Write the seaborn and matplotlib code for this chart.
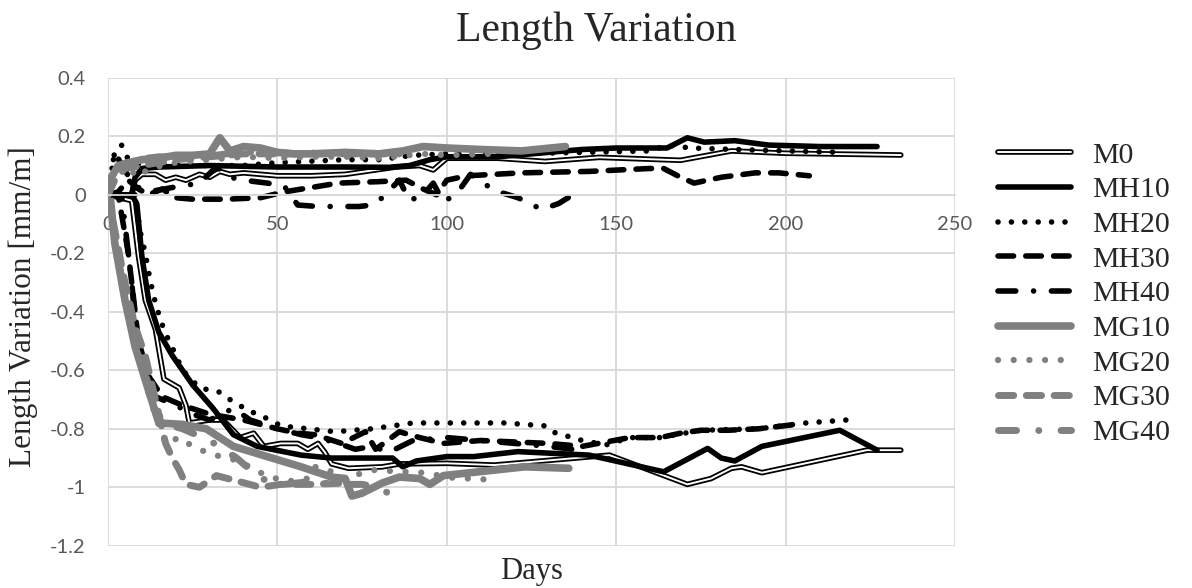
import pandas as pd
import seaborn as sns
import matplotlib.pyplot as plt
import matplotlib.patheffects as pe
from matplotlib.lines import Line2D

# ---- data (days, length variation mm/m) ----
# expansion branch (upper curves)
m0_up_days = [0, 7, 8, 10, 14, 17, 20, 23, 27, 30, 33, 36, 40, 50, 60, 70, 85, 92, 96, 100, 115, 129, 145, 164, 169, 184, 200, 234]
m0_up_vals = [0, 0, 0.05, 0.07, 0.07, 0.05, 0.06, 0.05, 0.07, 0.06, 0.08, 0.07, 0.075, 0.065, 0.065, 0.07, 0.095, 0.1, 0.085, 0.125, 0.125, 0.114, 0.128, 0.12, 0.118, 0.15, 0.142, 0.136]
mh10_up_days = [0, 7, 8, 10, 15, 30, 50, 70, 83, 89, 95, 100, 115, 130, 140, 150, 165, 171, 176, 185, 195, 210, 227]
mh10_up_vals = [0, 0, 0.06, 0.09, 0.095, 0.1, 0.095, 0.095, 0.094, 0.1, 0.12, 0.13, 0.13, 0.145, 0.155, 0.16, 0.16, 0.195, 0.18, 0.185, 0.17, 0.165, 0.165]
mh20_up_days = [0, 2, 4, 6, 10, 20, 30, 40, 50, 60, 70, 80, 90, 100, 120, 140, 160, 165, 172, 185, 200, 217]
mh20_up_vals = [0, 0.15, 0.17, 0.12, 0.1, 0.1, 0.1, 0.1, 0.11, 0.115, 0.12, 0.12, 0.135, 0.14, 0.14, 0.145, 0.15, 0.17, 0.16, 0.155, 0.15, 0.145]
mh30_up_days = [0, 3, 6, 9, 12, 16, 20, 25, 35, 45, 52, 60, 68, 80, 88, 93, 97, 100, 106, 122, 142, 160, 164, 169, 173, 181, 191, 198, 207]
mh30_up_vals = [0, 0.01, 0.05, 0.02, 0, 0.02, -0.01, -0.015, -0.015, -0.01, 0.01, 0.025, 0.04, 0.045, 0.05, 0.02, 0, 0.05, 0.065, 0.075, 0.08, 0.09, 0.09, 0.06, 0.04, 0.06, 0.075, 0.075, 0.065]
mh40_up_days = [0, 2, 4, 8, 12, 19, 27, 32, 36, 40, 47, 52, 56, 62, 67, 74, 78, 80, 86, 89, 93, 96, 99, 103, 107, 114, 121, 128, 133, 140]
mh40_up_vals = [0, 0.15, 0.1, 0.03, 0.01, 0.025, 0.04, 0.095, 0.06, 0.05, 0.04, 0.03, -0.035, -0.04, -0.04, -0.04, -0.035, -0.02, 0.05, -0.02, 0, 0.04, -0.025, 0.005, 0.07, 0.015, -0.01, -0.05, -0.03, 0.02]
mg10_up_days = [0, 1, 3, 6, 10, 15, 20, 25, 30, 33, 36, 40, 45, 50, 55, 60, 70, 80, 87, 93, 100, 110, 122, 135]
mg10_up_vals = [0, 0.06, 0.1, 0.11, 0.12, 0.125, 0.135, 0.135, 0.14, 0.195, 0.15, 0.165, 0.16, 0.145, 0.14, 0.14, 0.145, 0.14, 0.15, 0.165, 0.16, 0.155, 0.15, 0.165]
mg20_up_days = [0, 2, 5, 9, 12, 20, 30, 40, 50, 60, 70, 80, 93, 100, 113]
mg20_up_vals = [0, 0.08, 0.1, 0.06, 0.09, 0.11, 0.12, 0.13, 0.125, 0.13, 0.13, 0.125, 0.14, 0.135, 0.14]
mg30_up_days = [0, 2, 5, 10, 15, 20, 30, 40, 50, 60, 70, 85]
mg30_up_vals = [0, 0.05, 0.09, 0.1, 0.11, 0.12, 0.13, 0.14, 0.14, 0.14, 0.14, 0.14]
mg40_up_days = [0, 1, 3, 8, 15, 25, 35, 45, 55, 65, 75, 86]
mg40_up_vals = [0, 0.06, 0.1, 0.12, 0.13, 0.125, 0.14, 0.15, 0.14, 0.145, 0.14, 0.14]

# shrinkage branch (lower curves)
m0_lo_days = [0, 7, 9, 11, 14, 16.5, 21, 23, 24, 30, 34, 39, 43, 46, 51, 56, 59, 62, 64, 66, 71, 81, 86, 100, 114, 148, 171, 178, 184, 187, 193, 224, 234]
m0_lo_vals = [0, -0.02, -0.21, -0.36, -0.46, -0.63, -0.66, -0.72, -0.78, -0.77, -0.77, -0.83, -0.815, -0.86, -0.85, -0.85, -0.87, -0.85, -0.88, -0.92, -0.935, -0.93, -0.92, -0.918, -0.924, -0.89, -0.99, -0.97, -0.935, -0.93, -0.95, -0.873, -0.873]
mh10_lo_days = [0, 7, 8.5, 10, 12, 15, 19, 25, 31, 37, 44, 57, 66, 84, 87, 91, 100, 108, 121, 142, 164, 177, 181, 185, 193, 216, 227]
mh10_lo_vals = [0, 0, -0.03, -0.21, -0.36, -0.47, -0.55, -0.65, -0.73, -0.82, -0.86, -0.89, -0.9, -0.9, -0.93, -0.91, -0.895, -0.895, -0.878, -0.89, -0.947, -0.867, -0.9, -0.91, -0.86, -0.805, -0.873]
mh20_lo_days = [0, 8, 9.4, 11, 12.4, 14, 15.3, 16.8, 18.9, 22, 27, 33, 36, 41, 48, 51, 67, 78, 90, 97, 113, 117, 129, 131, 140, 147, 154, 163, 175, 192, 206, 218]
mh20_lo_vals = [0, 0, -0.12, -0.2, -0.29, -0.37, -0.42, -0.47, -0.52, -0.6, -0.66, -0.675, -0.7, -0.735, -0.77, -0.79, -0.81, -0.8, -0.78, -0.78, -0.78, -0.78, -0.79, -0.81, -0.84, -0.855, -0.83, -0.83, -0.805, -0.8, -0.78, -0.77]
mh30_lo_days = [0, 3, 6, 9, 12, 16, 22, 30, 40, 50, 56, 61, 69, 76, 79, 86, 92, 99, 110, 120, 130, 140, 154, 163, 169, 175, 183, 192, 203]
mh30_lo_vals = [0, 0, -0.2, -0.5, -0.62, -0.69, -0.72, -0.75, -0.77, -0.8, -0.815, -0.82, -0.85, -0.81, -0.87, -0.81, -0.83, -0.85, -0.84, -0.845, -0.85, -0.86, -0.83, -0.83, -0.815, -0.805, -0.805, -0.8, -0.785]
mh40_lo_days = [0, 4, 7, 9, 12, 16, 20, 25, 30, 37, 42, 50, 57, 62, 68, 73, 78, 83, 90, 100, 110, 120, 130, 137]
mh40_lo_vals = [0, 0, -0.3, -0.55, -0.68, -0.7, -0.72, -0.75, -0.77, -0.73, -0.77, -0.8, -0.82, -0.83, -0.85, -0.87, -0.86, -0.88, -0.84, -0.83, -0.84, -0.85, -0.86, -0.87]
mg10_lo_days = [0, 0.6, 2, 5, 8, 12, 15, 22, 29, 37, 47, 57, 66, 70, 72, 75, 81, 86, 92, 95, 99, 123, 136]
mg10_lo_vals = [0, 0, -0.165, -0.36, -0.52, -0.67, -0.78, -0.785, -0.8, -0.86, -0.895, -0.93, -0.965, -0.97, -1.03, -1.02, -0.985, -0.965, -0.97, -0.99, -0.96, -0.93, -0.935]
mg20_lo_days = [0, 2, 5, 9, 13, 17, 21, 25, 30, 35, 39, 43, 48, 53, 59, 61, 65, 69, 79, 84, 93, 103, 108, 113]
mg20_lo_vals = [0, -0.17, -0.37, -0.55, -0.72, -0.85, -0.83, -0.86, -0.885, -0.9, -0.91, -0.94, -0.965, -0.98, -0.97, -0.93, -0.94, -0.97, -0.94, -0.945, -0.95, -0.97, -0.97, -0.975]
mg30_lo_days = [0, 2, 5, 8, 11, 14, 17, 19, 21, 23, 27, 32, 37, 45, 51, 60, 71]
mg30_lo_vals = [0, -0.12, -0.3, -0.45, -0.55, -0.7, -0.85, -0.9, -0.94, -0.99, -1.0, -0.96, -0.975, -1.0, -0.99, -0.99, -0.985]
mg40_lo_days = [0, 2, 5, 8, 12, 16, 22, 30, 38, 45, 52, 60, 67, 75, 80, 86]
mg40_lo_vals = [0, -0.15, -0.35, -0.5, -0.65, -0.78, -0.8, -0.84, -0.9, -0.97, -0.99, -0.98, -0.99, -0.99, -1.0, -1.045]

series_names = ["M0", "MH10", "MH20", "MH30", "MH40", "MG10", "MG20", "MG30", "MG40"]
upper = [(m0_up_days, m0_up_vals), (mh10_up_days, mh10_up_vals), (mh20_up_days, mh20_up_vals),
         (mh30_up_days, mh30_up_vals), (mh40_up_days, mh40_up_vals), (mg10_up_days, mg10_up_vals),
         (mg20_up_days, mg20_up_vals), (mg30_up_days, mg30_up_vals), (mg40_up_days, mg40_up_vals)]
lower = [(m0_lo_days, m0_lo_vals), (mh10_lo_days, mh10_lo_vals), (mh20_lo_days, mh20_lo_vals),
         (mh30_lo_days, mh30_lo_vals), (mh40_lo_days, mh40_lo_vals), (mg10_lo_days, mg10_lo_vals),
         (mg20_lo_days, mg20_lo_vals), (mg30_lo_days, mg30_lo_vals), (mg40_lo_days, mg40_lo_vals)]

BLACK = "#000000"
GRAY = "#808080"
# M0 is a double line: white core with a black outline
M0_FX = [pe.Stroke(linewidth=4.0, foreground=BLACK), pe.Normal()]
styles = {
    "M0":   dict(color="white", lw=1.4, ls="-"),
    "MH10": dict(color=BLACK, lw=4.0, ls="-"),
    "MH20": dict(color=BLACK, lw=4.0, ls=(0, (0.01, 2.4))),
    "MH30": dict(color=BLACK, lw=4.0, ls=(0, (2.8, 2.2))),
    "MH40": dict(color=BLACK, lw=4.0, ls=(0, (3.2, 3.2, 0.01, 3.2))),
    "MG10": dict(color=GRAY, lw=5.5, ls="-"),
    "MG20": dict(color=GRAY, lw=4.5, ls=(0, (0.01, 2.5))),
    "MG30": dict(color=GRAY, lw=5.0, ls=(0, (2.2, 1.8))),
    "MG40": dict(color=GRAY, lw=5.0, ls=(0, (2.6, 3.2, 0.01, 3.2))),
}

sns.set_style("white")
plt.rcParams["font.family"] = ["Liberation Serif", "DejaVu Serif"]

fig = plt.figure(figsize=(11.92, 5.88), dpi=100)
ax = fig.add_axes([108 / 1192, 1 - 545.8 / 588, (955 - 108) / 1192, (545.8 - 77.8) / 588])


def draw(name, days, vals):
    st = styles[name]
    df = pd.DataFrame({"Days": days, "Value": vals})
    sns.lineplot(data=df, x="Days", y="Value", ax=ax, color=st["color"], lw=st["lw"],
                 linestyle=st["ls"], dash_capstyle="round", solid_capstyle="round",
                 solid_joinstyle="round", errorbar=None, legend=False,
                 path_effects=M0_FX if name == "M0" else None)


for name, (d, v) in zip(series_names, lower):
    draw(name, d, v)
for name, (d, v) in zip(series_names, upper):
    draw(name, d, v)

ax.set_xlim(0, 250)
ax.set_ylim(-1.2, 0.4)
ax.set_xticks([0, 50, 100, 150, 200, 250])
ax.set_yticks([0.4, 0.2, 0, -0.2, -0.4, -0.6, -0.8, -1, -1.2])
ax.set_yticklabels(["0.4", "0.2", "0", "-0.2", "-0.4", "-0.6", "-0.8", "-1", "-1.2"])
ax.grid(True, color="#d9d9d9", lw=1.3)
ax.set_axisbelow(True)
for s in ["top", "right", "left"]:
    ax.spines[s].set_visible(False)
ax.spines["bottom"].set_position(("data", 0))
ax.spines["bottom"].set_color("#d9d9d9")
ax.spines["bottom"].set_linewidth(1.3)
ax.tick_params(axis="both", length=0, labelsize=14.5, labelcolor="#595959")
ax.tick_params(axis="x", pad=15)
ax.tick_params(axis="y", pad=16)
for lab in ax.get_xticklabels() + ax.get_yticklabels():
    lab.set_family(["Lato", "DejaVu Sans"])

ax.set_xlabel("")
ax.set_ylabel("")
fig.text(0.5 * (108 + 955) / 1192, 1 - 572 / 588, "Days", ha="center", va="center", fontsize=22)
fig.text(23 / 1192, 1 - 307 / 588, "Length Variation [mm/m]", ha="center", va="center",
         rotation=90, fontsize=22.5)
fig.text(596 / 1192, 1 - 31 / 588, "Length Variation", ha="center", va="center", fontsize=30)

# legend
handles = []
for name in series_names:
    st = styles[name]
    h = Line2D([], [], color=st["color"], lw=st["lw"], linestyle=st["ls"],
               dash_capstyle="round", solid_capstyle="round",
               path_effects=M0_FX if name == "M0" else None)
    handles.append(h)
fig.legend(handles, series_names, loc="center left", bbox_to_anchor=(998 / 1192, 1 - 294 / 588),
           frameon=False, fontsize=21.5, handlelength=2.45, handletextpad=0.7, labelspacing=0.26,
           borderpad=0, borderaxespad=0)

fig.savefig("out.png", dpi=100)
